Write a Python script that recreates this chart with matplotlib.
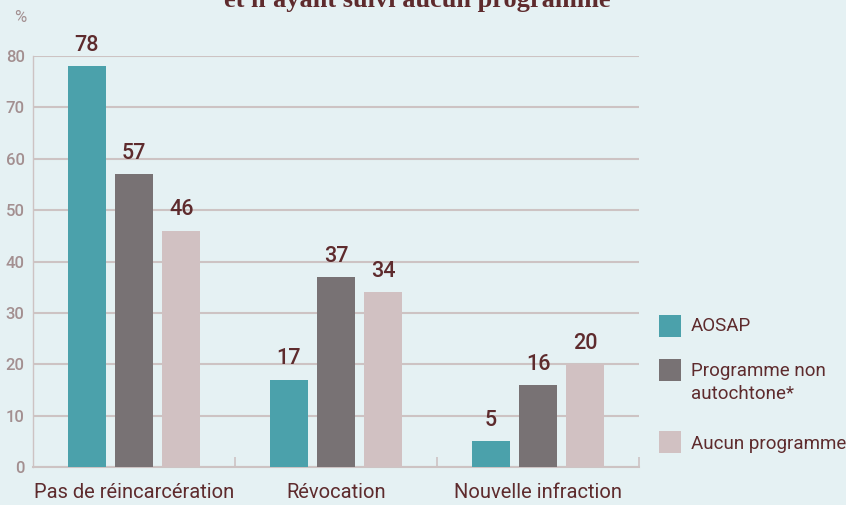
import numpy as np
import matplotlib.pyplot as plt
from matplotlib.patches import Rectangle

# Data
categories = ['Pas de réincarcération', 'Révocation', 'Nouvelle infraction']
series = ['AOSAP', 'Programme non\nautochtone*', 'Aucun programme']
aosap = [78, 17, 5]
non_auto = [57, 37, 16]
aucun = [46, 34, 20]
yticks = [0, 10, 20, 30, 40, 50, 60, 70, 80]

colors = ['#4ba1ab', '#787274', '#d1c1c2']
bg = '#e5f1f3'
maroon = '#5e2b2d'
tickcol = '#a38f90'
gridcol = '#cdc3c3'

plt.rcParams['font.family'] = ['Roboto', 'DejaVu Sans']

W, H = 846, 505
fig = plt.figure(figsize=(W / 100, H / 100), dpi=100, facecolor=bg)
ax = fig.add_axes([33 / W, 38 / H, 606 / W, 411 / H])
ax.set_facecolor(bg)

x = np.arange(len(categories)) + 0.5
w = 0.188
off = 0.235
for i, vals in enumerate([aosap, non_auto, aucun]):
    pos = x + (i - 1) * off
    ax.bar(pos, vals, width=w, color=colors[i], zorder=3)
    for p, v in zip(pos, vals):
        ax.text(p, v + 2.0, str(v), ha='center', va='bottom', fontsize=15.5,
                color=maroon, fontweight='medium', clip_on=False)

ax.set_xlim(0, 3)
ax.set_ylim(0, 80)
ax.set_yticks(yticks)
ax.set_yticklabels([str(t) for t in yticks], color=tickcol, fontsize=12,
                   fontweight='medium')
ax.yaxis.grid(True, color=gridcol, linewidth=1.5, zorder=0)
ax.tick_params(axis='y', length=0, pad=6)
ax.set_xticks([1, 2, 3])
ax.set_xticklabels([])
ax.tick_params(axis='x', direction='in', length=7, color=gridcol, width=1.2)
for s in ['top', 'right']:
    ax.spines[s].set_visible(False)
ax.spines['left'].set_color(gridcol)
ax.spines['left'].set_linewidth(1.0)
ax.spines['bottom'].set_color(gridcol)
ax.spines['bottom'].set_linewidth(1.5)

for xi, c in zip(x, categories):
    ax.text(xi, -3.2, c, ha='center', va='top', fontsize=14.5, color=maroon,
            clip_on=False)

fig.text(26 / W, 1 - 18 / H, '%', color=tickcol, fontsize=12, ha='right',
         va='center')

fig.text(417 / W, 1 - 7 / H, "et n'ayant suivi aucun programme", ha='center',
         va='baseline', fontsize=19, fontweight='bold', color=maroon,
         family=['Liberation Serif', 'DejaVu Serif'])

# legend
squares = [326, 370, 442]
text_tops = [317, 362, 435]
for c, lab, yc, yt in zip(colors, series, squares, text_tops):
    fig.patches.append(Rectangle((659 / W, 1 - (yc + 11) / H), 22 / W, 22 / H,
                                 transform=fig.transFigure, facecolor=c,
                                 edgecolor='none'))
    fig.text(691 / W, 1 - yt / H, lab, ha='left', va='top', fontsize=13.5,
             color=maroon, linespacing=1.35)

fig.savefig('out.png', dpi=100, facecolor=bg)
